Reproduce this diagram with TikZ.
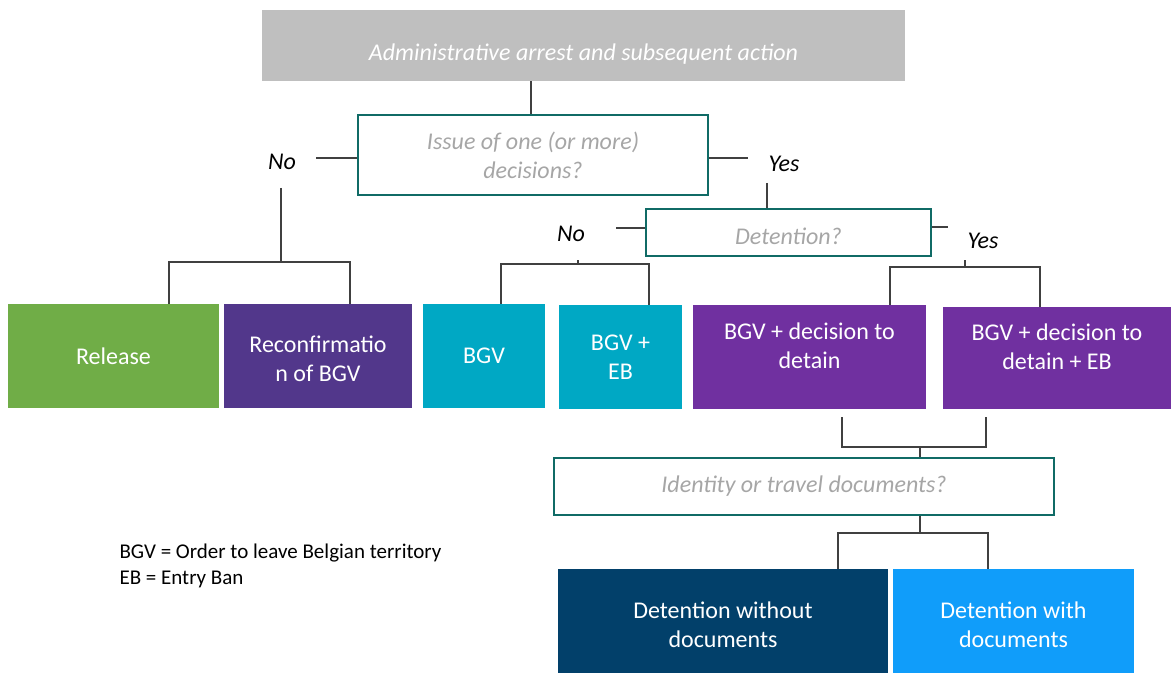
\documentclass[tikz,border=0pt]{standalone}
\usepackage{fontspec}
\setmainfont{Carlito}
\usepackage{xcolor}
\usetikzlibrary{positioning}

\definecolor{boxteal}{RGB}{16,107,102}
\definecolor{qgray}{RGB}{166,166,166}
\definecolor{topgray}{RGB}{191,191,191}
\definecolor{relgreen}{RGB}{112,173,71}
\definecolor{darkpurple}{RGB}{82,55,139}
\definecolor{bgvteal}{RGB}{0,168,196}
\definecolor{detpurple}{RGB}{112,48,160}
\definecolor{navy}{RGB}{2,64,106}
\definecolor{skyblue}{RGB}{16,157,250}
\definecolor{linegray}{RGB}{64,64,64}

\begin{document}
\begin{tikzpicture}[
        x=1pt, y=-1pt,
        every node/.style={font=\fontsize{24}{29.3}\selectfont},
        question/.style={rectangle, draw=boxteal, line width=2.5pt, align=center, text=qgray,
            font=\fontsize{24}{29.3}\selectfont\itshape},
        outcome/.style={rectangle, align=center, text=white, minimum height=104pt},
        lbl/.style={font=\fontsize{24}{29.3}\selectfont\itshape},
        conn/.style={draw=linegray, line width=1.5pt}
    ]
    \useasboundingbox (0,0) rectangle (1171,674);

    % questions
    \node[rectangle, fill=topgray, text=white, minimum width=643pt, minimum height=71pt, text height=33pt,
        font=\fontsize{24}{29.3}\selectfont\itshape] (arrest) at (583.5,45.5) {Administrative arrest and subsequent action};
    \node[question, minimum width=350pt, minimum height=80pt] (issue) at (533,155) {Issue of one (or more)\\decisions?};
    \node[question, minimum width=285pt, minimum height=47pt, text height=25pt] (detq) at (788.5,232.5) {Detention?};
    \node[question, minimum width=500pt, minimum height=57pt] (docq) at (804,486.5) {Identity or travel documents?};

    % outcomes
    \node[outcome, fill=relgreen, minimum width=211pt] (release) at (113.5,356) {Release};
    \node[outcome, fill=darkpurple, minimum width=188pt, text height=51pt] (reconf) at (318,356) {Reconfirmatio\\n of BGV};
    \node[outcome, fill=bgvteal, minimum width=122pt] (bgv) at (484,356) {BGV};
    \node[outcome, fill=bgvteal, minimum width=123pt] (bgveb) at (620.5,357) {BGV +\\EB};
    \node[outcome, fill=detpurple, minimum width=233pt, text depth=23pt] (detain) at (809.5,357) {BGV + decision to\\detain};
    \node[outcome, fill=detpurple, minimum width=228pt, minimum height=102pt, text depth=23pt] (detaineb) at (1057,358) {BGV + decision to\\detain + EB};
    \node[outcome, fill=navy, minimum width=330pt, text height=54pt] (nodoc) at (723,621) {Detention without\\documents};
    \node[outcome, fill=skyblue, minimum width=241pt, text height=54pt] (withdoc) at (1013.5,621) {Detention with\\documents};

    % labels
    \node[lbl] (no1) at (282,162) {No};
    \node[lbl] (yes1) at (784,164) {Yes};
    \node[lbl] (no2) at (571,234) {No};
    \node[lbl] (yes2) at (983,241) {Yes};

    \node[anchor=west, align=left, font=\fontsize{21}{26}\selectfont] (legend) at (116,566)
        {BGV = Order to leave Belgian territory\\EB = Entry Ban};

    % junctions
    \coordinate (tA) at (316,158);
    \coordinate (sA) at (281,188);
    \coordinate (jA) at (281,262);
    \coordinate (tB) at (748,158);
    \coordinate (sB) at (767,183);
    \coordinate (tC) at (616,228);
    \coordinate (jC) at (578,264);
    \coordinate (tD) at (948,227);
    \coordinate (jD) at (965,267);
    \coordinate (jE) at (920,447);
    \coordinate (jF) at (920,533);

    % connectors
    \draw[conn] ([xshift=-2pt]issue.north) -- ([xshift=-2pt]issue.north |- arrest.south);
    \draw[conn] (issue.west |- tA) -- (tA);
    \draw[conn] (sA) -- (jA);
    \draw[conn] ([xshift=55.5pt]release.north) |- (jA) -| ([xshift=32pt]reconf.north);

    \draw[conn] (issue.east |- tB) -- (tB);
    \draw[conn] (sB) -- (sB |- detq.north);

    \draw[conn] (detq.west |- tC) -- (tC);
    \draw[conn] (jC) -- ([yshift=4pt]jC);
    \draw[conn] ([xshift=17pt]bgv.north) |- (jC) -| ([xshift=28.5pt]bgveb.north);

    \draw[conn] (detq.east |- tD) -- (tD);
    \draw[conn] (jD) -- ([yshift=7pt]jD);
    \draw[conn] ([xshift=80.5pt]detain.north) |- (jD) -| ([xshift=-17pt]detaineb.north);

    \draw[conn] ([xshift=32.5pt,yshift=-8pt]detain.south) |- (jE) -| ([xshift=-71pt,yshift=-8pt]detaineb.south);
    \draw[conn] (jE) -- (jE |- docq.north);

    \draw[conn] (jF |- docq.south) -- (jF);
    \draw[conn] ([xshift=115pt]nodoc.north) |- (jF) -| ([xshift=-25.5pt]withdoc.north);

\end{tikzpicture}
\end{document}
